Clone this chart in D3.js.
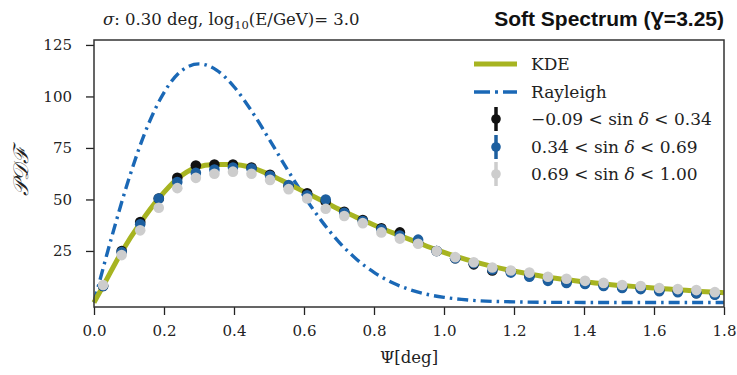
<!DOCTYPE html>
<html>
<head>
<meta charset="utf-8">
<script src="https://cdn.jsdelivr.net/npm/d3@7"></script>
<style>
  html, body { margin: 0; padding: 0; background: #fff; }
  svg { display: block; }
</style>
</head>
<body>
<svg id="chart" width="737" height="375"></svg>
<script>
// Bin centres of the angular-distance histogram (34 bins over 0–1.8 deg)
const binCenters = [0.026, 0.079, 0.132, 0.185, 0.238, 0.291, 0.344, 0.397, 0.450, 0.503,
  0.556, 0.609, 0.662, 0.715, 0.768, 0.821, 0.874, 0.926, 0.979, 1.032,
  1.085, 1.138, 1.191, 1.244, 1.297, 1.350, 1.403, 1.456, 1.509, 1.562,
  1.615, 1.668, 1.721, 1.774];

// Histogram PDF values per declination band
const bandLow = [8, 25, 39, 50.5, 60.5, 66.5, 67, 67, 65.5, 62,
  56.5, 53, 49, 44, 40, 36, 34, 29, 25, 21.5,
  18.5, 15.5, 15, 13, 11, 10, 9.5, 8.5, 7.5, 7,
  6, 5.5, 4.5, 4];
const bandMid = [8, 24.5, 38, 50.5, 58.5, 63, 64.5, 65.5, 65, 61.5,
  57, 52, 50, 43.5, 39.5, 35.5, 32.5, 30.5, 25, 21.5,
  19, 16, 14.5, 12.5, 10.5, 9.5, 9, 8, 7, 6.5,
  5.5, 5, 4.5, 3.8];
const bandHigh = [8.5, 23, 35, 46, 55.5, 60.5, 62.5, 63.5, 62.5, 59.5,
  55, 50.5, 45.5, 42, 38.5, 34, 31, 28.5, 25, 22,
  19.5, 17, 15.5, 14.5, 12.5, 11.5, 10.5, 9.5, 8.5, 8,
  7, 6.5, 6, 5];

// KDE curve
const kdeX = [0, 0.026, 0.079, 0.132, 0.185, 0.238, 0.291, 0.344, 0.397, 0.450, 0.503,
  0.556, 0.609, 0.662, 0.715, 0.768, 0.821, 0.874, 0.926, 0.979, 1.032,
  1.085, 1.138, 1.191, 1.244, 1.297, 1.350, 1.403, 1.456, 1.509, 1.562,
  1.615, 1.668, 1.721, 1.774, 1.8];
const kdeY = [0, 8, 24.5, 38.5, 50.5, 60, 65.5, 67, 67, 65.5, 62,
  57.5, 53, 48.5, 44, 40, 36, 32.5, 29, 25.5, 22.5,
  19.8, 17.5, 15.5, 13.8, 12.2, 11, 10, 9, 8.2, 7.5,
  6.8, 6.2, 5.5, 5, 4.7];

// Rayleigh reference curve (sigma = 0.30 deg)
const rayX = [0, 0.05, 0.1, 0.15, 0.2, 0.25, 0.3, 0.35, 0.4, 0.45, 0.5, 0.55, 0.6, 0.65,
  0.7, 0.75, 0.8, 0.85, 0.9, 0.95, 1.0, 1.05, 1.1, 1.2, 1.3, 1.4, 1.5, 1.6, 1.7, 1.8];
const rayY = [0, 31.4, 60.2, 84.3, 101.9, 112.5, 115.8, 112.8, 104.7, 93.0, 79.4, 65.2, 51.7, 39.6,
  29.3, 21.0, 14.6, 9.8, 6.4, 4.0, 2.5, 1.5, 0.8, 0.3, 0.07, 0.02, 0, 0, 0, 0];

const xTicks = [0, 0.2, 0.4, 0.6, 0.8, 1.0, 1.2, 1.4, 1.6, 1.8];
const yTicks = [25, 50, 75, 100, 125];

const bandLabels = [
  ["\u22120.09", "0.34"],
  ["0.34", "0.69"],
  ["0.69", "1.00"]
];
const bandColors = ["#111111", "#1d5f9f", "#cdcdcd"];

const svg = d3.select("#chart");
const plotL = 94, plotR = 724, plotT = 40, plotB = 307;

const x = d3.scaleLinear().domain([0, 1.8]).range([plotL, plotR]);
const y = d3.scaleLinear().domain([-2.2, 127.4]).range([plotB, plotT]);

const serif = "'DejaVu Serif', 'Liberation Serif', serif";

// Rayleigh curve
const rayLine = d3.line().x((d, i) => x(rayX[i])).y(d => y(d)).curve(d3.curveMonotoneX);
svg.append("path")
  .attr("d", rayLine(rayY))
  .attr("fill", "none")
  .attr("stroke", "#1a68b6")
  .attr("stroke-width", 3.4)
  .attr("stroke-dasharray", "11,5,2.5,5")
  .attr("stroke-linecap", "butt");

// KDE curve
const kdeLine = d3.line().x((d, i) => x(kdeX[i])).y(d => y(d)).curve(d3.curveMonotoneX);
svg.append("path")
  .attr("d", kdeLine(kdeY))
  .attr("fill", "none")
  .attr("stroke", "#a7b421")
  .attr("stroke-width", 5);

// Histogram markers per band
[bandLow, bandMid, bandHigh].forEach((vals, k) => {
  svg.append("g").selectAll("circle")
    .data(vals)
    .join("circle")
    .attr("cx", (d, i) => x(binCenters[i]))
    .attr("cy", d => y(d))
    .attr("r", 5.3)
    .attr("fill", bandColors[k]);
});

// Axes
const xAxis = d3.axisBottom(x).tickValues(xTicks).tickFormat(d3.format(".1f")).tickSizeOuter(0).tickSize(8).tickPadding(10);
const yAxis = d3.axisLeft(y).tickValues(yTicks).tickSizeOuter(0).tickSize(8).tickPadding(14);

const gx = svg.append("g").attr("transform", `translate(0,${plotB})`).call(xAxis);
const gy = svg.append("g").attr("transform", `translate(${plotL},0)`).call(yAxis);
[gx, gy].forEach(g => {
  g.select(".domain").remove();
  g.selectAll(".tick line").attr("stroke", "#222").attr("stroke-width", 1.3);
  g.selectAll(".tick text").attr("font-family", serif).attr("font-size", 15).attr("fill", "#222");
});

// Frame
svg.append("rect")
  .attr("x", plotL).attr("y", plotT)
  .attr("width", plotR - plotL).attr("height", plotB - plotT)
  .attr("fill", "none").attr("stroke", "#333").attr("stroke-width", 1.5);

// Axis labels
svg.append("text")
  .attr("x", (plotL + plotR) / 2).attr("y", 363)
  .attr("text-anchor", "middle")
  .attr("font-family", serif).attr("font-size", 16.5).attr("fill", "#222")
  .text("\u03A8[deg]");

svg.append("text")
  .attr("transform", "translate(28,172) rotate(-90)")
  .attr("text-anchor", "middle")
  .attr("font-family", serif).attr("font-size", 21).attr("font-style", "italic").attr("fill", "#222")
  .text("\uD835\uDCAB\uD835\uDC9F\u2131");

// Titles
const t1 = svg.append("text")
  .attr("x", 103).attr("y", 25)
  .attr("font-family", serif).attr("font-size", 16.5).attr("fill", "#222");
t1.append("tspan").attr("font-style", "italic").text("\u03C3");
t1.append("tspan").text(": 0.30 deg, log");
t1.append("tspan").attr("font-size", 11.5).attr("dy", 4).text("10");
t1.append("tspan").attr("dy", -4).text("(E/GeV)= 3.0");

svg.append("text")
  .attr("x", 724).attr("y", 26)
  .attr("text-anchor", "end")
  .attr("font-family", "'Liberation Sans', 'DejaVu Sans', sans-serif")
  .attr("font-size", 21).attr("font-weight", "bold").attr("fill", "#111")
  .text("Soft Spectrum (\u0194=3.25)");

// Legend
const lg = svg.append("g");
const lx = 474, ltx = 531;
const rowY = [64, 92, 119, 147, 174];

lg.append("line").attr("x1", lx).attr("x2", lx + 43).attr("y1", rowY[0]).attr("y2", rowY[0])
  .attr("stroke", "#a7b421").attr("stroke-width", 5);
lg.append("line").attr("x1", lx).attr("x2", lx + 43).attr("y1", rowY[1]).attr("y2", rowY[1])
  .attr("stroke", "#1a68b6").attr("stroke-width", 3.4).attr("stroke-dasharray", "16,5,3,5");

const lt = (yy) => lg.append("text").attr("x", ltx).attr("y", yy + 6)
  .attr("font-family", serif).attr("font-size", 17).attr("fill", "#222");
lt(rowY[0]).text("KDE");
lt(rowY[1]).text("Rayleigh");

bandLabels.forEach((lab, k) => {
  const yy = rowY[k + 2];
  lg.append("line").attr("x1", lx + 22).attr("x2", lx + 22).attr("y1", yy - 12).attr("y2", yy + 12)
    .attr("stroke", bandColors[k]).attr("stroke-width", 3.5);
  lg.append("circle").attr("cx", lx + 22).attr("cy", yy).attr("r", 4.8).attr("fill", bandColors[k]);
  const t = lt(yy);
  t.append("tspan").text(lab[0] + " < sin ");
  t.append("tspan").attr("font-style", "italic").text("\u03B4");
  t.append("tspan").text(" < " + lab[1]);
});
</script>
</body>
</html>
